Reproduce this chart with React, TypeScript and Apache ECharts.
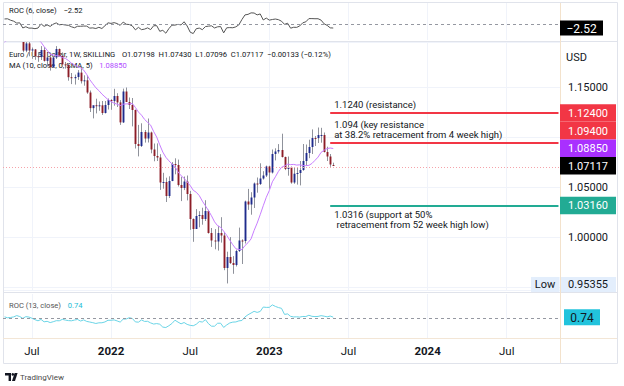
import React, { useEffect, useRef } from "react";
import * as echarts from "echarts";

// closes of the weeks before the first visible bar (Feb 1 – Apr 26, 2021), used by MA / ROC
const preCloses = [1.2045, 1.212, 1.212, 1.2075, 1.1915, 1.195, 1.1905, 1.1795, 1.1765, 1.19, 1.198, 1.2095, 1.202];

// weekly candles [open, high, low, close], first week = 2021-05-03
const candles2021 = [
  [1.202, 1.2173, 1.1986, 1.2165], [1.2165, 1.2183, 1.2052, 1.2145], [1.2145, 1.2245, 1.213, 1.218],
  [1.218, 1.2266, 1.2133, 1.219], [1.219, 1.2255, 1.2105, 1.2165], [1.2165, 1.2218, 1.2093, 1.2105],
  [1.2105, 1.2145, 1.1847, 1.1864], [1.1864, 1.1975, 1.1848, 1.1936], [1.1936, 1.1975, 1.1807, 1.1865],
  [1.1865, 1.1895, 1.1782, 1.1876], [1.1876, 1.188, 1.1772, 1.1808], [1.1808, 1.185, 1.1752, 1.1799],
  [1.1799, 1.1909, 1.177, 1.187], [1.187, 1.19, 1.1754, 1.1761], [1.1761, 1.1807, 1.1706, 1.1795],
  [1.1795, 1.1806, 1.1664, 1.1697], [1.1697, 1.1808, 1.169, 1.1795], [1.1795, 1.1909, 1.178, 1.188],
  [1.188, 1.1885, 1.18, 1.1812], [1.1812, 1.1846, 1.17, 1.1726], [1.1726, 1.175, 1.1684, 1.172],
  [1.172, 1.174, 1.1563, 1.1598], [1.1598, 1.164, 1.1529, 1.1588], [1.1588, 1.1624, 1.1524, 1.16],
  [1.16, 1.1669, 1.1571, 1.1644], [1.1644, 1.1692, 1.1535, 1.1558], [1.1558, 1.1617, 1.1513, 1.1567],
  [1.1567, 1.1616, 1.1432, 1.1445], [1.1445, 1.1465, 1.125, 1.1289], [1.1289, 1.1302, 1.1186, 1.1318],
  [1.1318, 1.1383, 1.1236, 1.1315], [1.1315, 1.1355, 1.1262, 1.1317], [1.1317, 1.136, 1.1221, 1.124],
  [1.124, 1.136, 1.1235, 1.132], [1.132, 1.1385, 1.1275, 1.137],
];
const candles2022 = [
  [1.137, 1.1378, 1.1272, 1.1359], [1.1359, 1.1482, 1.1313, 1.141], [1.141, 1.1438, 1.13, 1.1346],
  [1.1346, 1.1369, 1.1121, 1.1146], [1.1146, 1.1484, 1.114, 1.1455], [1.1455, 1.1495, 1.1375, 1.135],
  [1.135, 1.1395, 1.128, 1.132], [1.132, 1.139, 1.1106, 1.127], [1.127, 1.1275, 1.0885, 1.093],
  [1.093, 1.1121, 1.0806, 1.091], [1.091, 1.1137, 1.09, 1.105], [1.105, 1.107, 1.0944, 1.0985],
  [1.0985, 1.1185, 1.0945, 1.1045], [1.1045, 1.1054, 1.0837, 1.0875], [1.0875, 1.0935, 1.0757, 1.081],
  [1.081, 1.0936, 1.076, 1.0795], [1.0795, 1.0828, 1.0471, 1.0545], [1.0545, 1.0642, 1.0483, 1.055],
  [1.055, 1.0593, 1.035, 1.041], [1.041, 1.0607, 1.039, 1.056], [1.056, 1.0749, 1.0558, 1.073],
  [1.073, 1.0787, 1.0627, 1.072], [1.072, 1.0774, 1.0505, 1.052], [1.052, 1.0601, 1.0359, 1.049],
  [1.049, 1.0605, 1.0469, 1.0555], [1.0555, 1.0615, 1.0366, 1.043], [1.043, 1.0461, 1.0072, 1.018],
  [1.018, 1.0186, 0.9952, 1.008], [1.008, 1.0279, 1.008, 1.021], [1.021, 1.0258, 1.0097, 1.022],
  [1.022, 1.0293, 1.0123, 1.018], [1.018, 1.0368, 1.016, 1.026], [1.026, 1.0272, 1.0034, 1.004],
  [1.004, 1.009, 0.9901, 0.9965], [0.9965, 1.0079, 0.9877, 0.9955], [0.9955, 1.0112, 0.9864, 1.004],
  [1.004, 1.0198, 0.9944, 1.0015], [1.0015, 1.0051, 0.9668, 0.969], [0.969, 0.9853, 0.95355, 0.98],
  [0.98, 0.9999, 0.973, 0.974], [0.974, 0.9809, 0.9632, 0.972], [0.972, 0.9873, 0.9705, 0.986],
  [0.986, 1.0094, 0.985, 0.9965], [0.9965, 0.9977, 0.973, 0.996], [0.996, 1.0364, 0.9935, 1.0355],
  [1.0355, 1.0481, 1.0271, 1.0325], [1.0325, 1.0448, 1.0223, 1.0395], [1.0395, 1.0545, 1.029, 1.0535],
  [1.0535, 1.0595, 1.0443, 1.053], [1.053, 1.0737, 1.052, 1.0585], [1.0585, 1.0658, 1.0574, 1.0615],
  [1.0615, 1.0714, 1.06, 1.0705],
];
const candles2023 = [
  [1.0705, 1.0713, 1.0482, 1.0645], [1.0645, 1.0875, 1.0635, 1.083], [1.083, 1.0887, 1.0766, 1.0855],
  [1.0855, 1.0929, 1.0835, 1.087], [1.087, 1.1033, 1.0795, 1.08], [1.08, 1.0804, 1.0669, 1.068],
  [1.068, 1.0805, 1.0613, 1.0695], [1.0695, 1.0705, 1.0533, 1.0545], [1.0545, 1.0691, 1.0532, 1.0633],
  [1.0633, 1.0695, 1.0524, 1.064], [1.064, 1.076, 1.0516, 1.067], [1.067, 1.093, 1.0662, 1.076],
  [1.076, 1.0925, 1.0713, 1.084], [1.084, 1.0973, 1.0788, 1.09], [1.09, 1.1076, 1.083, 1.099],
  [1.099, 1.1009, 1.091, 1.0989], [1.0989, 1.1095, 1.094, 1.102], [1.102, 1.1092, 1.0943, 1.102],
  [1.102, 1.1045, 1.0845, 1.085], [1.085, 1.0903, 1.076, 1.0805], [1.0805, 1.083, 1.0702, 1.0725],
  [1.07198, 1.0743, 1.07096, 1.07117],
];

const weeksShown = 183;
const firstWeek = Date.UTC(2021, 4, 3);
const levelValues = [1.124, 1.094, 1.0316];
const levelNotes = [
  "1.1240 (resistance)",
  "1.094 (key resistance\nat 38.2% retracement from 4 week high)",
  "1.0316 (support at 50%\n retracement from 52 week high low)",
];
const levelTags = ["1.12400", "1.09400", "1.03160"];
const priceTicks = [1.0, 1.05, 1.15];
const lastPrice = 1.07117;
const maLast = 1.0885;
const rocFastLast = -2.52;
const rocSlowLast = 0.74;
const lowValue = 0.95355;
const symbolTitle = "Euro / U.S. Dollar, 1W, SKILLING";
const quoteParts = ["O1.07198", "H1.07430", "L1.07096", "C1.07117", "\u22120.00133 (\u22120.12%)"];

const FONT = 'Roboto, "Noto Sans", sans-serif';
const INK = "#131722";

export default function App() {
  const ref = useRef<HTMLDivElement>(null);
  useEffect(() => {
    const el = ref.current;
    if (!el) return;
    const chart = echarts.init(el, null, { renderer: "svg" });

    const candles = [...candles2021, ...candles2022, ...candles2023];
    const closes = candles.map((c) => c[3]);
    const all = preCloses.concat(closes);
    const P = preCloses.length;
    const ma = closes.map((_, k) => {
      let s = 0;
      for (let j = 0; j < 10; j++) s += all[P + k - j];
      return +(s / 10).toFixed(5);
    });
    const rocFast = closes.map((c, k) => +((c / all[P + k - 6] - 1) * 100).toFixed(3));
    const rocSlow = closes.map((c, k) => +((c / all[P + k - 13] - 1) * 100).toFixed(3));

    const cats: string[] = [];
    for (let k = 0; k < weeksShown; k++) {
      cats.push(new Date(firstWeek + k * 7 * 864e5).toISOString().slice(0, 10));
    }
    const isMark = (idx: number) => {
      const d = new Date(firstWeek + idx * 7 * 864e5);
      const m = d.getUTCMonth();
      return (m === 0 || m === 6) && d.getUTCDate() <= 7;
    };
    const lastIdx = candles.length - 1;

    const mkX = (gi: number, labels: boolean) => ({
      type: "category",
      gridIndex: gi,
      data: cats,
      boundaryGap: true,
      axisLine: { show: false },
      axisTick: { show: false },
      axisLabel: labels
        ? {
            show: true,
            interval: (i: number) => isMark(i),
            margin: 7,
            fontSize: 11.5,
            fontFamily: FONT,
            color: INK,
            formatter: (v: string) => {
              const d = new Date(v + "T00:00:00Z");
              return d.getUTCMonth() === 0 ? "{y|" + d.getUTCFullYear() + "}" : "Jul";
            },
            rich: { y: { fontWeight: "bold", fontSize: 11.5, fontFamily: FONT, color: INK } },
          }
        : { show: false },
      splitLine: {
        show: true,
        alignWithLabel: true,
        interval: (i: number) => isMark(i),
        lineStyle: { color: "#f0f3fa", width: 1 },
      },
    });

    const levelColors = ["#f23645", "#f23645", "#22ab94"];

    const option: any = {
      animation: false,
      textStyle: { fontFamily: FONT },
      grid: [
        { left: 3, right: 64, top: 3, height: 37 },
        { left: 3, right: 64, top: 42, height: 248 },
        { left: 3, right: 64, top: 294, height: 44 },
      ],
      xAxis: [mkX(0, false), mkX(1, false), mkX(2, true)],
      yAxis: [
        { type: "value", gridIndex: 0, min: -10, max: 13.1, show: false },
        {
          type: "value",
          gridIndex: 1,
          position: "right",
          min: 0.947,
          max: 1.195,
          axisLine: { show: false },
          axisTick: { show: false },
          axisLabel: {
            color: INK,
            fontSize: 11,
            fontFamily: FONT,
            margin: 8,
            formatter: (v: number) => (priceTicks.some((t) => Math.abs(t - v) < 1e-7) ? v.toFixed(5) : ""),
          },
          splitLine: { lineStyle: { color: "#f0f3fa" } },
        },
        { type: "value", gridIndex: 2, min: -17.4, max: 20.9, show: false },
      ],
      series: [
        {
          type: "custom",
          xAxisIndex: 1,
          yAxisIndex: 1,
          clip: true,
          z: 3,
          encode: { x: 0, y: [1, 2, 3, 4] },
          data: candles.map((c, i) => [i, c[0], c[3], c[2], c[1]]),
          renderItem: (_p: any, api: any) => {
            const i = api.value(0);
            const o = api.value(1);
            const c = api.value(2);
            const pO = api.coord([i, o]);
            const pC = api.coord([i, c]);
            const pL = api.coord([i, api.value(3)]);
            const pH = api.coord([i, api.value(4)]);
            const bw = Math.max(1.6, api.size([1, 0])[0] * 0.62);
            const x = Math.round(pO[0]) + 0.5;
            const top = Math.min(pO[1], pC[1]);
            const h = Math.max(1, Math.abs(pO[1] - pC[1]));
            return {
              type: "group",
              children: [
                { type: "line", shape: { x1: x, y1: pH[1], x2: x, y2: pL[1] }, style: { stroke: "#8f929b", lineWidth: 1 } },
                { type: "rect", shape: { x: x - bw / 2, y: top, width: bw, height: h }, style: { fill: c >= o ? "#1f2b8c" : "#8c1d27" } },
              ],
            };
          },
        },
        {
          type: "line",
          xAxisIndex: 1,
          yAxisIndex: 1,
          data: ma,
          showSymbol: false,
          clip: true,
          z: 4,
          lineStyle: { color: "#c77dff", width: 1 },
          markLine: {
            silent: true,
            symbol: ["none", "none"],
            animation: false,
            data: [
              { yAxis: lastPrice, lineStyle: { color: "#f5a3aa", type: [1, 2], width: 1 }, label: { show: false } },
              ...levelValues.map((v, k) => [
                {
                  coord: [cats[lastIdx - 1], v],
                  lineStyle: { color: levelColors[k], width: 2, type: "solid" },
                  label: {
                    show: true,
                    position: k === 2 ? "insideStartBottom" : "insideStartTop",
                    formatter: levelNotes[k],
                    color: INK,
                    fontSize: 9.5,
                    lineHeight: 10,
                    fontFamily: FONT,
                    distance: 4,
                  },
                },
                { coord: [cats[weeksShown - 1], v] },
              ]),
            ],
          },
        },
        {
          type: "line",
          xAxisIndex: 0,
          yAxisIndex: 0,
          data: rocFast,
          showSymbol: false,
          lineStyle: { color: "#555555", width: 1 },
          markLine: {
            silent: true,
            symbol: ["none", "none"],
            label: { show: false },
            data: [{ yAxis: 0 }],
            lineStyle: { color: "#9598a1", type: [3, 3], width: 1 },
          },
        },
        {
          type: "line",
          xAxisIndex: 2,
          yAxisIndex: 2,
          data: rocSlow,
          showSymbol: false,
          lineStyle: { color: "#6ad4e6", width: 1 },
          markLine: {
            silent: true,
            symbol: ["none", "none"],
            label: { show: false },
            data: [{ yAxis: 0 }],
            lineStyle: { color: "#9598a1", type: [3, 3], width: 1 },
          },
        },
      ],
    };
    chart.setOption(option);

    const py = (axis: number, v: number) => chart.convertToPixel({ yAxisIndex: axis } as any, v) as unknown as number;
    const g: any[] = [];
    const hline = (x1: number, y1: number, x2: number, y2: number, color: string) =>
      g.push({ type: "line", z: 0, silent: true, shape: { x1, y1, x2, y2 }, style: { stroke: color, lineWidth: 1 } });

    g.push({ type: "rect", z: 0, silent: true, shape: { x: 3.5, y: 2.5, width: 614, height: 361 }, style: { fill: "none", stroke: "#e0e3eb", lineWidth: 1 } });
    hline(3, 41.5, 617, 41.5, "#e0e3eb");
    hline(3, 292.5, 617, 292.5, "#e0e3eb");
    hline(3, 338.5, 617, 338.5, "#f3e6d6");
    hline(560.5, 3, 560.5, 363, "#f3e2cc");

    const txt = (x: number, y: number, text: string, rich: any, z = 1) =>
      g.push({ type: "text", z, silent: true, x, y, style: { text, rich, verticalAlign: "middle", align: "left" } });
    const base = { fill: INK, fontSize: 7.6, fontFamily: FONT };
    txt(9, 10, "{a|ROC (6, close)}  {a|" + "\u2212" + Math.abs(rocFastLast).toFixed(2) + "}", { a: base });
    txt(9, 54, "{a|" + symbolTitle + "}  {a|" + quoteParts.join("  ") + "}", { a: base });
    txt(9, 65, "{a|MA (10, close, 0, SMA, 5)}  {p|" + maLast.toFixed(5) + "}", { a: base, p: { ...base, fill: "#b14cff" } });
    txt(9, 305, "{a|ROC (13, close)}  {c|" + rocSlowLast.toFixed(2) + "}", { a: { ...base, fill: "#555" }, c: { ...base, fill: "#22bcd6" } });
    txt(566, 57, "{u|USD}", { u: { fill: INK, fontSize: 11, fontFamily: FONT } }, 5);

    // price tags on the right scale
    const tags = [
      { v: levelValues[0], t: levelTags[0], bg: "#f23645", fg: "#ffffff" },
      { v: levelValues[1], t: levelTags[1], bg: "#f23645", fg: "#ffffff" },
      { v: maLast, t: maLast.toFixed(5), bg: "#a930ff", fg: "#ffffff" },
      { v: lastPrice, t: lastPrice.toFixed(5), bg: "#000000", fg: "#ffffff" },
      { v: levelValues[2], t: levelTags[2], bg: "#22ab94", fg: "#ffffff" },
    ].map((d) => ({ ...d, y: py(1, d.v) }));
    tags.sort((a, b) => a.y - b.y);
    const TH = 17.5;
    for (let k = tags.length - 2; k >= 0; k--) {
      if (tags[k].y + TH / 2 > tags[k + 1].y - TH / 2) tags[k].y = tags[k + 1].y - TH;
    }
    tags.forEach((d) => {
      g.push({ type: "rect", z: 10, silent: true, shape: { x: 560, y: d.y - TH / 2, width: 56, height: TH }, style: { fill: d.bg } });
      g.push({ type: "text", z: 11, silent: true, x: 588, y: d.y + 0.5, style: { text: d.t, fill: d.fg, fontSize: 11, fontFamily: FONT, align: "center", verticalAlign: "middle" } });
    });

    const yLow = py(1, lowValue) + 1;
    g.push({ type: "rect", z: 10, silent: true, shape: { x: 531, y: yLow - 7.5, width: 28.5, height: 15 }, style: { fill: "#e3eefc" } });
    g.push({ type: "rect", z: 10, silent: true, shape: { x: 561, y: yLow - 7.5, width: 55, height: 15 }, style: { fill: "#e3eefc" } });
    g.push({ type: "text", z: 11, silent: true, x: 545, y: yLow + 0.5, style: { text: "Low", fill: INK, fontSize: 11, fontFamily: FONT, align: "center", verticalAlign: "middle" } });
    g.push({ type: "text", z: 11, silent: true, x: 588, y: yLow + 0.5, style: { text: lowValue.toFixed(5), fill: INK, fontSize: 11, fontFamily: FONT, align: "center", verticalAlign: "middle" } });

    const yF = py(0, rocFastLast);
    g.push({ type: "rect", z: 10, silent: true, shape: { x: 560, y: yF - 7.5, width: 43, height: 15 }, style: { fill: "#000000" } });
    g.push({ type: "text", z: 11, silent: true, x: 581.5, y: yF + 0.5, style: { text: "\u2212" + Math.abs(rocFastLast).toFixed(2), fill: "#ffffff", fontSize: 12, fontFamily: FONT, align: "center", verticalAlign: "middle" } });

    const yS = py(2, rocSlowLast);
    g.push({ type: "rect", z: 10, silent: true, shape: { x: 564, y: yS - 8, width: 36, height: 16 }, style: { fill: "#22c3dc" } });
    g.push({ type: "text", z: 11, silent: true, x: 582, y: yS + 0.5, style: { text: rocSlowLast.toFixed(2), fill: INK, fontSize: 12, fontFamily: FONT, align: "center", verticalAlign: "middle" } });

    // TradingView mark
    g.push({ type: "polygon", z: 1, silent: true, shape: { points: [[5, 373], [11, 373], [11, 381], [8.6, 381], [8.6, 375.4], [5, 375.4]] }, style: { fill: INK } });
    g.push({ type: "circle", z: 1, silent: true, shape: { cx: 12.8, cy: 374.4, r: 1.3 }, style: { fill: INK } });
    g.push({ type: "polygon", z: 1, silent: true, shape: { points: [[14.6, 373], [17.6, 373], [15, 381], [12, 381]] }, style: { fill: INK } });
    g.push({ type: "text", z: 1, silent: true, x: 20, y: 377.5, style: { text: "TradingView", fill: "#4a4a4a", fontSize: 8, fontFamily: FONT, align: "left", verticalAlign: "middle" } });

    chart.setOption({ graphic: g });
    return () => chart.dispose();
  }, []);
  return <div ref={ref} style={{ position: "fixed", left: 0, top: 0, width: 624, height: 386, background: "#ffffff" }} />;
}
